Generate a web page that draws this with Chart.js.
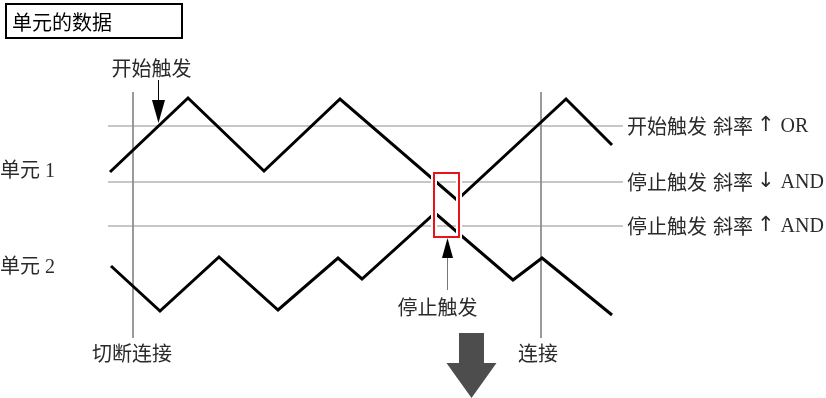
<!DOCTYPE html>
<html>
<head>
<meta charset="utf-8">
<script src="https://cdn.jsdelivr.net/npm/chart.js@4.4.0/dist/chart.umd.min.js"></script>
<style>
    html, body { margin: 0; background: #fff; }
    canvas { display: block; }
</style>
</head>
<body>
<canvas id="chart" width="826" height="398"></canvas>
<script>
// 单元 1 / 单元 2 波形拐点 (时间, 电平)
const unit1Time  = [110, 188, 264, 340, 457, 566, 612];
const unit1Level = [172,  98, 171,  99, 200,  99, 145];
const unit2Time  = [111, 160, 219, 278, 338, 362, 435, 513, 542, 612];
const unit2Level = [266, 311, 257, 310, 258, 279, 213, 280, 258, 315];

// 触发电平及标签
const thresholdLevels = [126, 182, 226];
const thresholdNames  = ['开始触发', '停止触发', '停止触发'];
const thresholdSlopes = ['↑', '↓', '↑'];
const thresholdLogic  = ['OR', 'AND', 'AND'];
const thresholdSpan   = [108, 623];

// 切断连接 / 连接 时刻
const markerTimes  = [133, 541];
const markerLabels = ['切断连接', '连接'];
const markerSpan   = [92, 338];

// 停止触发窗口
const stopWindowTime  = [434, 459];
const stopWindowLevel = [173, 237];

const unitLabels = ['单元 1', '单元 2'];
const titleText = '单元的数据';

const CJK = "'Noto Sans CJK SC', 'Liberation Serif'";
const SERIF = "'Liberation Serif', 'Noto Sans CJK SC'";

const toPoints = (ts, ls) => ts.map((t, i) => ({ x: t, y: ls[i] }));

const datasets = [
    { data: toPoints(unit1Time, unit1Level), borderColor: '#000', borderWidth: 3, order: 1 },
    { data: toPoints(unit2Time, unit2Level), borderColor: '#000', borderWidth: 3, order: 1 }
];
thresholdLevels.forEach(l => datasets.push({
    data: thresholdSpan.map(t => ({ x: t, y: l })),
    borderColor: '#b4b4b4', borderWidth: 1.5, order: 3
}));
markerTimes.forEach(t => datasets.push({
    data: markerSpan.map(l => ({ x: t, y: l })),
    borderColor: '#8c8c8c', borderWidth: 1, order: 2
}));

// 交点：单元1 上升穿过开始触发电平
function crossing(ts, ls, level) {
    for (let i = 0; i < ts.length - 1; i++) {
        if ((ls[i] - level) * (ls[i + 1] - level) <= 0 && ls[i + 1] < ls[i]) {
            return ts[i] + (ls[i] - level) / (ls[i] - ls[i + 1]) * (ts[i + 1] - ts[i]);
        }
    }
    return ts[0];
}

const overlay = {
    id: 'overlay',
    afterDatasetsDraw(chart) {
        const { ctx, scales: { x, y } } = chart;
        const px = v => x.getPixelForValue(v);
        const py = v => y.getPixelForValue(v);
        ctx.save();

        // 停止触发窗口
        const bx0 = px(stopWindowTime[0]), bx1 = px(stopWindowTime[1]);
        const by0 = py(stopWindowLevel[0]), by1 = py(stopWindowLevel[1]);
        ctx.strokeStyle = '#fff';
        ctx.lineWidth = 6;
        ctx.strokeRect(bx0, by0, bx1 - bx0, by1 - by0);
        ctx.strokeStyle = '#e8141c';
        ctx.lineWidth = 2;
        ctx.strokeRect(bx0, by0, bx1 - bx0, by1 - by0);

        // 开始触发箭头
        const sx = px(crossing(unit1Time, unit1Level, thresholdLevels[0]));
        const sTip = py(thresholdLevels[0]) - 3;
        ctx.strokeStyle = '#000';
        ctx.lineWidth = 1;
        ctx.beginPath();
        ctx.moveTo(sx, 80); ctx.lineTo(sx, sTip - 20);
        ctx.stroke();
        ctx.fillStyle = '#000';
        ctx.beginPath();
        ctx.moveTo(sx - 6.5, sTip - 23); ctx.lineTo(sx + 6.5, sTip - 23); ctx.lineTo(sx, sTip);
        ctx.closePath(); ctx.fill();

        // 停止触发箭头
        const tx = (bx0 + bx1) / 2 + 1;
        const tTip = by1 + 1;
        ctx.strokeStyle = '#777';
        ctx.beginPath();
        ctx.moveTo(tx, tTip + 18); ctx.lineTo(tx, 290);
        ctx.stroke();
        ctx.beginPath();
        ctx.moveTo(tx - 5.5, tTip + 20); ctx.lineTo(tx + 5.5, tTip + 20); ctx.lineTo(tx, tTip);
        ctx.closePath(); ctx.fill();

        // 文字
        ctx.fillStyle = '#2a2a2a';
        ctx.textBaseline = 'middle';
        ctx.font = `20px ${CJK}`;
        ctx.textAlign = 'center';
        ctx.fillText('开始触发', sx - 7, 68);
        ctx.fillText('停止触发', tx - 10, 307);
        markerTimes.forEach((t, i) => ctx.fillText(markerLabels[i], px(t) - (i ? 3 : 1), 353));

        ctx.textAlign = 'left';
        ctx.font = `20px ${SERIF}`;
        ctx.fillText(unitLabels[0], 0, py(unit1Level[0]));
        ctx.fillText(unitLabels[1], 0, py(unit2Level[0]) + 2);

        thresholdLevels.forEach((l, i) => {
            let cx = px(thresholdSpan[1]) + 4;
            const cy = py(l);
            ctx.font = `20px ${CJK}`;
            ctx.fillText(thresholdNames[i], cx, cy);
            cx += ctx.measureText(thresholdNames[i]).width + 6;
            ctx.fillText('斜率', cx, cy);
            cx += ctx.measureText('斜率').width + 4;
            ctx.font = `21px 'DejaVu Sans', ${SERIF}`;
            ctx.fillText(thresholdSlopes[i], cx, cy);
            cx += ctx.measureText(thresholdSlopes[i]).width + 6;
            ctx.font = `20px ${SERIF}`;
            ctx.fillText(thresholdLogic[i], cx, cy + 1);
        });

        // 标题框
        ctx.strokeStyle = '#000';
        ctx.lineWidth = 2;
        ctx.strokeRect(6, 4, 176, 34);
        ctx.fillStyle = '#000';
        ctx.font = `20px ${CJK}`;
        ctx.fillText(titleText, 12, 22);

        // 下方大箭头
        const ax = (bx0 + bx1) / 2 + 25;
        ctx.fillStyle = '#4d4d4d';
        ctx.beginPath();
        ctx.moveTo(ax - 12.5, 333); ctx.lineTo(ax + 12.5, 333);
        ctx.lineTo(ax + 12.5, 363); ctx.lineTo(ax + 25, 363);
        ctx.lineTo(ax, 398); ctx.lineTo(ax - 25, 363);
        ctx.lineTo(ax - 12.5, 363);
        ctx.closePath(); ctx.fill();

        ctx.restore();
    }
};

new Chart(document.getElementById('chart'), {
    type: 'line',
    data: { datasets },
    options: {
        responsive: false,
        animation: false,
        devicePixelRatio: 1,
        layout: { padding: 0 },
        elements: {
            point: { radius: 0 },
            line: { tension: 0, fill: false, borderJoinStyle: 'miter', borderCapStyle: 'butt' }
        },
        scales: {
            x: { type: 'linear', min: 0, max: 826, display: false },
            y: { type: 'linear', min: 0, max: 398, reverse: true, display: false }
        },
        plugins: { legend: { display: false }, tooltip: { enabled: false } }
    },
    plugins: [overlay]
});
</script>
</body>
</html>
